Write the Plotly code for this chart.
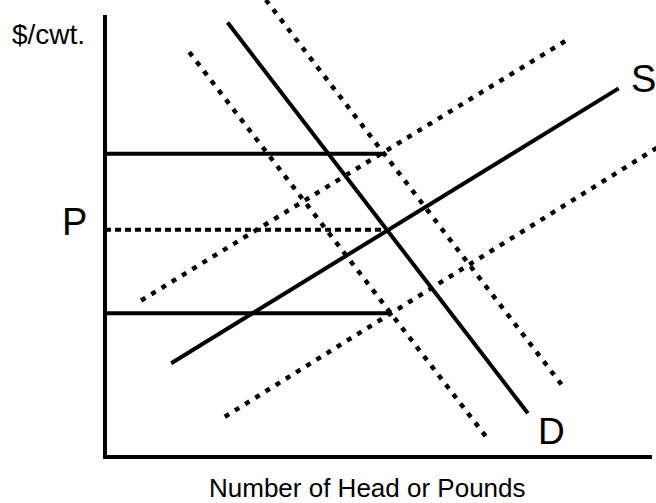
import plotly.graph_objects as go

# Data coordinates: quantity (x, 0-100) and price (y, 0-100)
axis_x = [0, 0, 100]
axis_y = [100, 0, 0]

demand_x = [22.4, 77.3]
demand_y = [98.3, 9.9]
demand_hi_x = [29.4, 84.0]
demand_hi_y = [103.4, 15.5]
demand_lo_x = [15.4, 70.1]
demand_lo_y = [91.6, 3.9]

supply_x = [12.1, 93.9]
supply_y = [21.2, 83.4]
supply_hi_x = [6.6, 85.2]
supply_hi_y = [35.4, 94.9]
supply_lo_x = [21.9, 102.0]
supply_lo_y = [9.1, 70.8]

price_high_x = [0, 51.1]
price_high_y = [68.6, 68.6]
price_eq_x = [0, 50.5]
price_eq_y = [51.4, 51.4]
price_low_x = [0, 52.3]
price_low_y = [32.5, 32.5]

FONT = "Liberation Sans, Arial, Helvetica, sans-serif"
BLACK = "#000000"

fig = go.Figure()

def add_line(xs, ys, width, dash="solid"):
    fig.add_trace(go.Scatter(x=xs, y=ys, mode="lines",
                             line=dict(color=BLACK, width=width, dash=dash),
                             hoverinfo="skip", showlegend=False))

DOT = "5px,7px"
add_line(axis_x, axis_y, 4)
add_line(demand_x, demand_y, 4)
add_line(demand_hi_x, demand_hi_y, 4.5, DOT)
add_line(demand_lo_x, demand_lo_y, 4.5, DOT)
add_line(supply_x, supply_y, 4)
add_line(supply_hi_x, supply_hi_y, 4.5, DOT)
add_line(supply_lo_x, supply_lo_y, 4.5, DOT)
add_line(price_high_x, price_high_y, 4)
add_line(price_eq_x, price_eq_y, 4, "6px,4px")
add_line(price_low_x, price_low_y, 4)

annots = [
    dict(text="$/cwt.", x=-10.4, y=95.5, size=28),
    dict(text="P", x=-5.5, y=53.2, size=38),
    dict(text="S", x=98.4, y=85.6, size=38),
    dict(text="D", x=81.6, y=5.8, size=37),
    dict(text="Number of Head or Pounds", x=47.9, y=-7.0, size=26),
]
for a in annots:
    fig.add_annotation(x=a["x"], y=a["y"], xref="x", yref="y", text=a["text"],
                       showarrow=False, xanchor="center", yanchor="middle",
                       borderpad=0,
                       font=dict(family=FONT, size=a["size"], color=BLACK))

fig.update_layout(
    width=656, height=503,
    margin=dict(l=0, r=0, t=0, b=0),
    paper_bgcolor="white", plot_bgcolor="white",
    xaxis=dict(range=[-19.2, 100.73], visible=False, fixedrange=True),
    yaxis=dict(range=[-10.41, 103.39], visible=False, fixedrange=True),
    hovermode=False,
)

fig.write_html("out.html", config={"displayModeBar": False},
               post_script="document.body.style.margin='0px';document.body.style.overflow='hidden';")
